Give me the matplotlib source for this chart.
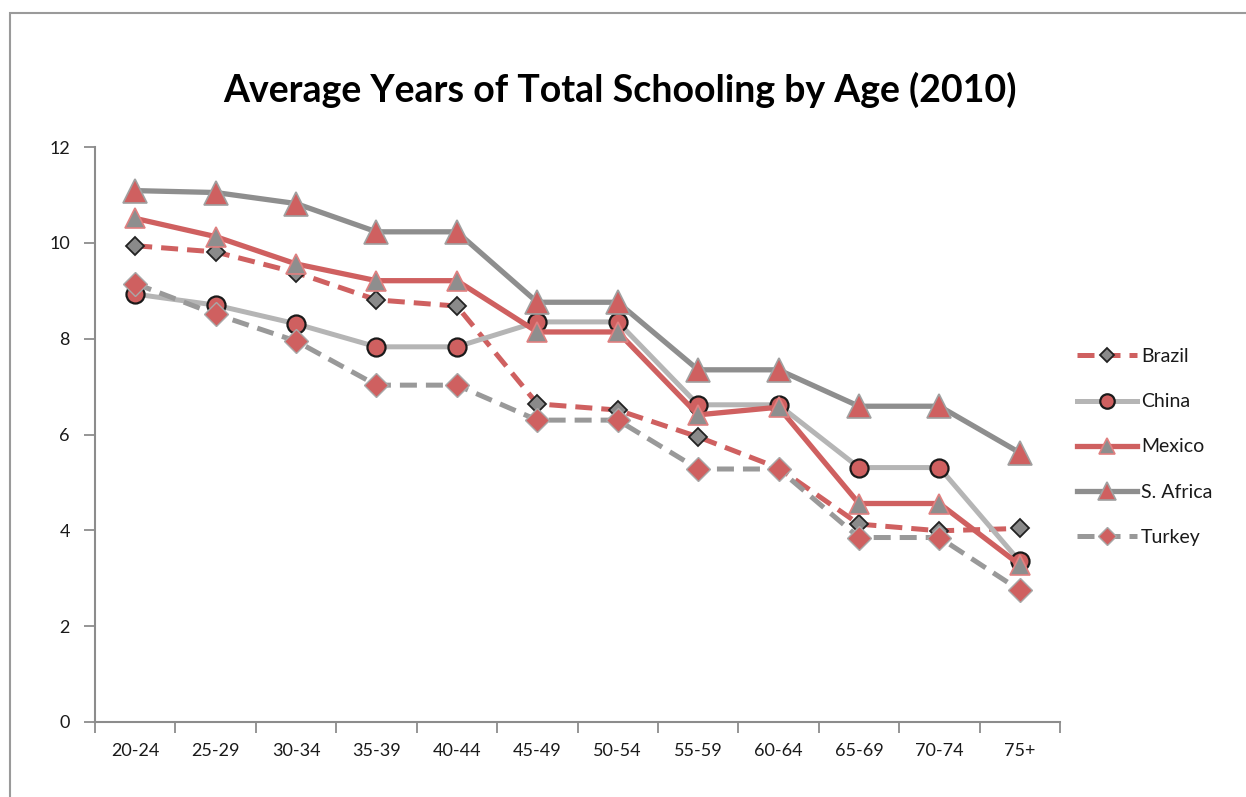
import matplotlib
matplotlib.use("Agg")
import matplotlib.pyplot as plt
from matplotlib.patches import Rectangle
from matplotlib.ticker import FixedLocator, NullFormatter

plt.rcParams['font.family'] = ['Lato', 'DejaVu Sans']

age_groups = ["20-24", "25-29", "30-34", "35-39", "40-44", "45-49",
              "50-54", "55-59", "60-64", "65-69", "70-74", "75+"]

brazil = [9.94, 9.81, 9.38, 8.81, 8.68, 6.64, 6.51, 5.95, 5.30, 4.13, 3.99, 4.04]
china = [8.93, 8.70, 8.31, 7.83, 7.83, 8.35, 8.35, 6.62, 6.62, 5.31, 5.31, 3.35]
mexico = [10.51, 10.13, 9.56, 9.21, 9.21, 8.14, 8.14, 6.41, 6.57, 4.56, 4.56, 3.28]
s_africa = [11.09, 11.05, 10.82, 10.23, 10.23, 8.76, 8.76, 7.35, 7.35, 6.59, 6.59, 5.62]
turkey = [9.15, 8.51, 7.95, 7.03, 7.03, 6.30, 6.30, 5.28, 5.28, 3.85, 3.85, 2.75]

RED = "#cf6060"
DARK_GREY = "#8e8e8e"
LIGHT_GREY = "#b5b5b5"
MID_GREY = "#999999"

fig = plt.figure(figsize=(12.46, 7.97), dpi=100)
ax = fig.add_axes([95 / 1246, 1 - 722 / 797, 965 / 1246, 575 / 797])

x = list(range(len(age_groups)))

ax.plot(x, brazil, color=RED, lw=3.6, ls=(0, (3.4, 1.8)), marker="D",
        ms=9, mfc="#8a8a8a", mec="#222222", mew=1.3, label="Brazil", zorder=3)
ax.plot(x, china, color=LIGHT_GREY, lw=3.6, marker="o",
        ms=13, mfc=RED, mec="#1a1a1a", mew=1.6, label="China", zorder=4)
ax.plot(x, mexico, color=RED, lw=3.8, marker="^",
        ms=15, mfc="#8e8e8e", mec="#e08080", mew=1.2, label="Mexico", zorder=5)
ax.plot(x, s_africa, color=DARK_GREY, lw=3.8, marker="^",
        ms=17, mfc=RED, mec="#a0a0a0", mew=1.2, label="S. Africa", zorder=6)
ax.plot(x, turkey, color=MID_GREY, lw=3.6, ls=(0, (3.4, 1.8)), marker="D",
        ms=12, mfc=RED, mec="#a8a8a8", mew=1.0, label="Turkey", zorder=7)

ax.set_xlim(-0.5, len(age_groups) - 0.5)
ax.set_ylim(0, 12)
ax.set_yticks(range(0, 13, 2))

# category boundaries carry the tick marks; labels sit at the centres
ax.xaxis.set_major_locator(FixedLocator([i - 0.5 for i in range(len(age_groups) + 1)]))
ax.xaxis.set_major_formatter(NullFormatter())
ax.xaxis.set_minor_locator(FixedLocator(x))
ax.set_xticklabels(age_groups, minor=True)
ax.tick_params(axis="x", which="major", length=8, width=1.3, color="#8c8c8c", direction="out")
ax.tick_params(axis="x", which="minor", length=0, pad=15, labelsize=13, labelcolor="#1a1a1a")
ax.tick_params(axis="y", length=8, width=1.3, color="#8c8c8c", direction="out",
               pad=10, labelsize=13, labelcolor="#1a1a1a")

for side in ("top", "right"):
    ax.spines[side].set_visible(False)
for side in ("left", "bottom"):
    ax.spines[side].set_color("#8c8c8c")
    ax.spines[side].set_linewidth(1.5)

fig.text(620 / 1246, 1 - 90 / 797, "Average Years of Total Schooling by Age (2010)",
         ha="center", va="center", fontsize=27, fontweight="bold", color="#000000")

leg = ax.legend(loc="center left", bbox_to_anchor=(1077 / 1246, 1 - 447 / 797),
                bbox_transform=fig.transFigure, frameon=False, fontsize=14,
                handlelength=3.1, handletextpad=0.2, labelspacing=1.45,
                borderpad=0, borderaxespad=0, markerscale=0.8)
for t in leg.get_texts():
    t.set_color("#1a1a1a")

fig.add_artist(Rectangle((10 / 1246, -0.1), 1.2, 1 - 13 / 797 + 0.1,
                         transform=fig.transFigure, fill=False,
                         edgecolor="#9a9a9a", lw=1.5))

fig.savefig("out.png", dpi=100)
